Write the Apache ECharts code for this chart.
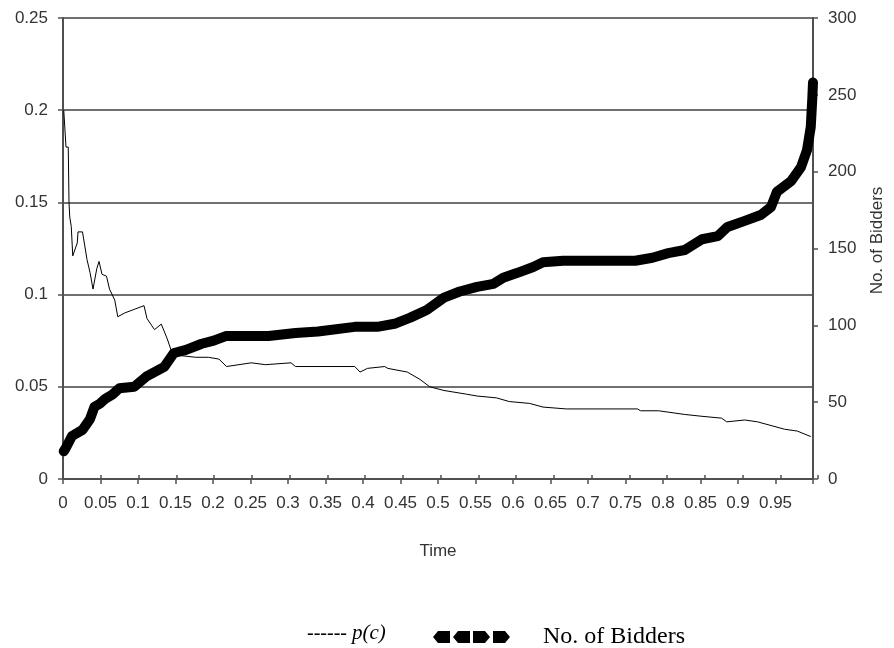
<!DOCTYPE html>
<html>
<head>
<meta charset="utf-8">
<script src="https://cdn.jsdelivr.net/npm/echarts@6/dist/echarts.min.js"></script>
<style>
  html, body { margin: 0; padding: 0; background: #fff; }
  #container { width: 894px; height: 648px; }
</style>
</head>
<body>
<div id="container"></div>
<script>
// p(c) curve (left axis)
const pcTime = [0.001, 0.004, 0.007, 0.008, 0.009, 0.011, 0.013, 0.019, 0.020, 0.026, 0.032, 0.036,
    0.040, 0.045, 0.048, 0.052, 0.058, 0.062, 0.069, 0.073, 0.082, 0.095, 0.108, 0.112, 0.122,
    0.131, 0.139, 0.144, 0.155, 0.177, 0.194, 0.208, 0.218, 0.251, 0.270, 0.304, 0.310, 0.389,
    0.396, 0.406, 0.429, 0.433, 0.459, 0.476, 0.489, 0.508, 0.538, 0.552, 0.578, 0.595, 0.622,
    0.640, 0.671, 0.766, 0.770, 0.794, 0.829, 0.852, 0.878, 0.885, 0.909, 0.926, 0.944, 0.962,
    0.979, 0.997];
const pcValue = [0.200, 0.180, 0.180, 0.150, 0.142, 0.137, 0.121, 0.128, 0.134, 0.134, 0.119, 0.112,
    0.103, 0.114, 0.118, 0.111, 0.110, 0.103, 0.097, 0.088, 0.090, 0.092, 0.094, 0.087, 0.081,
    0.084, 0.076, 0.070, 0.067, 0.066, 0.066, 0.065, 0.061, 0.063, 0.062, 0.063, 0.061, 0.061,
    0.058, 0.060, 0.061, 0.060, 0.058, 0.054, 0.050, 0.048, 0.046, 0.045, 0.044, 0.042, 0.041,
    0.039, 0.038, 0.038, 0.037, 0.037, 0.035, 0.034, 0.033, 0.031, 0.032, 0.031, 0.029, 0.027,
    0.026, 0.023];

// number of bidders (right axis)
const bidTime = [0.001, 0.003, 0.012, 0.026, 0.036, 0.042, 0.049, 0.056, 0.066, 0.075, 0.095, 0.112,
    0.135, 0.148, 0.164, 0.185, 0.201, 0.217, 0.274, 0.310, 0.340, 0.389, 0.419, 0.442, 0.463,
    0.485, 0.508, 0.529, 0.552, 0.574, 0.587, 0.605, 0.627, 0.640, 0.667, 0.710, 0.763, 0.786,
    0.807, 0.829, 0.852, 0.873, 0.886, 0.909, 0.931, 0.944, 0.952, 0.971, 0.984, 0.992, 0.997,
    0.999, 1.0];
const bidders = [18, 19.5, 28, 32, 39, 47, 49, 52, 55, 59, 60, 67,
    73, 82, 84, 88, 90, 93, 93, 95, 96, 99, 99, 101, 105,
    110, 118, 122, 125, 127, 131, 134, 138, 141, 142, 142, 142, 144,
    147, 149, 156, 158, 164, 168, 172, 177, 187, 194, 203, 214, 229,
    247, 258];

const legendArrows = 'path://M0,6L5,0L17,0L17,12L5,12Z M20,6L25,0L37,0L37,12L25,12Z ' +
    'M40,0L52,0L57,6L52,12L40,12Z M60,0L72,0L77,6L72,12L60,12Z';

function draw_chart() {
    let dom = document.getElementById("container");
    let myChart = echarts.init(dom);

    let pcData = pcTime.map((t, i) => [t, pcValue[i]]);
    let bidData = bidTime.map((t, i) => [t, bidders[i]]);

    let labelStyle = {
        color: '#333',
        fontFamily: 'Liberation Sans',
        fontSize: 17
    };
    let axisColor = '#505050';
    let plotBox = {left: 63, right: 76, top: 18, bottom: 169};

    let option = {
        animation: false,
        backgroundColor: '#fff',
        // second grid only carries the upper half of the crossing x ticks
        grid: [Object.assign({}, plotBox), Object.assign({}, plotBox)],
        legend: [
            {
                data: ['p(c)'],
                left: 297,
                top: 618,
                icon: 'none',
                itemWidth: 0,
                itemHeight: 12,
                selectedMode: false,
                formatter: function () {
                    return '------ {i|p(c)}';
                },
                textStyle: {
                    color: '#000',
                    fontFamily: 'Liberation Serif',
                    fontSize: 20,
                    rich: {
                        i: {fontStyle: 'italic', fontFamily: 'Liberation Serif', fontSize: 21, color: '#000'}
                    }
                }
            },
            {
                data: ['No. of Bidders'],
                left: 428,
                top: 620,
                icon: legendArrows,
                itemWidth: 77,
                itemHeight: 12,
                selectedMode: false,
                itemStyle: {color: '#000'},
                textStyle: {
                    color: '#000',
                    fontFamily: 'Liberation Serif',
                    fontSize: 24,
                    padding: [0, 0, 0, 28]
                }
            }
        ],
        xAxis: [
            {
                type: 'value',
                gridIndex: 0,
                min: 0,
                max: 1,
                interval: 0.05,
                name: 'Time',
                nameLocation: 'middle',
                nameGap: 64,
                nameTextStyle: labelStyle,
                axisLine: {lineStyle: {color: axisColor, width: 2}},
                axisTick: {show: true, length: 5, lineStyle: {color: axisColor, width: 1.5}},
                splitLine: {show: false},
                axisLabel: Object.assign({
                    margin: 16,
                    formatter: function (v) {
                        return v > 0.999 ? '' : String(v);
                    }
                }, labelStyle)
            },
            {
                type: 'value',
                gridIndex: 1,
                position: 'bottom',
                min: 0,
                max: 1,
                interval: 0.05,
                axisLine: {show: false},
                axisTick: {show: true, inside: true, length: 4, lineStyle: {color: axisColor, width: 1.5}},
                axisLabel: {show: false},
                splitLine: {show: false}
            }
        ],
        yAxis: [
            {
                type: 'value',
                gridIndex: 0,
                min: 0,
                max: 0.25,
                interval: 0.05,
                axisLine: {show: true, lineStyle: {color: axisColor, width: 2}},
                axisTick: {show: true, length: 5, lineStyle: {color: axisColor, width: 1.5}},
                splitLine: {show: true, lineStyle: {color: '#707070', width: 2}},
                axisLabel: Object.assign({margin: 15}, labelStyle)
            },
            {
                type: 'value',
                gridIndex: 0,
                min: 0,
                max: 300,
                interval: 50,
                position: 'right',
                name: 'No. of Bidders',
                nameLocation: 'middle',
                nameRotate: 90,
                nameGap: 56,
                nameTextStyle: Object.assign({padding: [0, 0, 0, 16]}, labelStyle),
                axisLine: {show: true, lineStyle: {color: axisColor, width: 2}},
                axisTick: {show: true, length: 5, lineStyle: {color: axisColor, width: 1.5}},
                splitLine: {show: false},
                axisLabel: Object.assign({margin: 15}, labelStyle)
            },
            {
                type: 'value',
                gridIndex: 1,
                show: false,
                min: 0,
                max: 1
            }
        ],
        series: [
            {
                name: 'p(c)',
                type: 'line',
                xAxisIndex: 0,
                yAxisIndex: 0,
                showSymbol: false,
                symbol: 'none',
                lineStyle: {color: '#000', width: 1},
                itemStyle: {color: '#000'},
                data: pcData
            },
            {
                name: 'No. of Bidders',
                type: 'line',
                xAxisIndex: 0,
                yAxisIndex: 1,
                showSymbol: false,
                symbol: 'none',
                lineStyle: {color: '#000', width: 10, cap: 'round', join: 'round'},
                itemStyle: {color: '#000'},
                data: bidData
            }
        ]
    };

    if (option && typeof option === "object") {
        myChart.setOption(option, true);
    }
}

draw_chart();
</script>
</body>
</html>
